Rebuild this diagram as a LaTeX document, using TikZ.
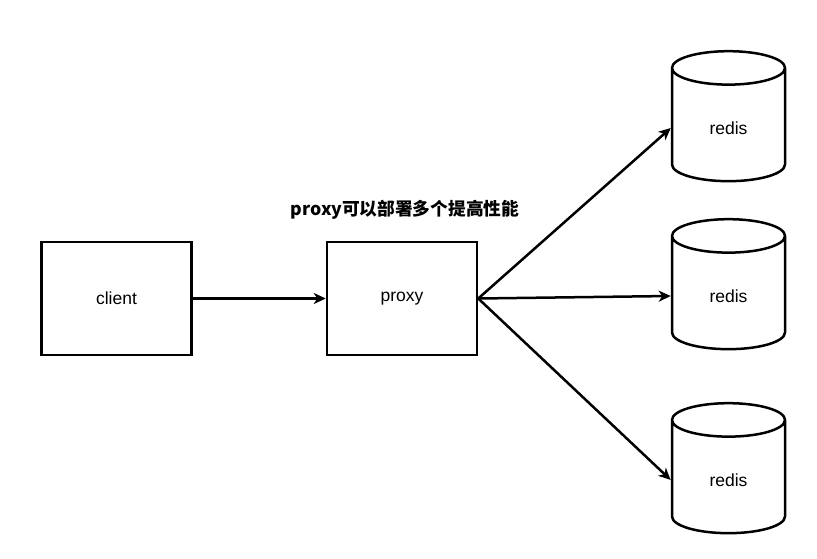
\documentclass[tikz,border=0pt]{standalone}
\usepackage{fontspec}
\setmainfont{Liberation Sans}
\newfontfamily\cjk{Noto Sans CJK SC}
\usetikzlibrary{shapes,arrows.meta}

\tikzset{
    box/.style={draw, line width=2.5pt, minimum width=150pt, minimum height=113pt, font=\fontsize{17.5}{20}\selectfont},
    db/.style={cylinder, shape border rotate=90, aspect=0.75, draw, line width=2.5pt,
        minimum width=113pt, minimum height=130pt, font=\fontsize{17.5}{20}\selectfont},
    link/.style={line width=2.5pt, -{Stealth[length=12pt,width=11pt,inset=3.5pt]}},
}

\begin{document}
\begin{tikzpicture}[x=1pt,y=1pt]

    \useasboundingbox (0,0) rectangle (817,558);

    \node [box] (client) at (116.5,259.5) {client};
    \node [box] (proxy) at (402,259.5) {proxy};

    \node [font=\cjk\bfseries\fontsize{17.7}{20}\selectfont] (note) at (405,348) {proxy可以部署多个提高性能};

    \node [db] (redisA) at (728.5,430) {redis};
    \node [db] (redisB) at (728.5,262) {redis};
    \node [db] (redisC) at (728.5,78) {redis};

    \draw [link] (client) -- (proxy);
    \draw [link] (proxy.east) -- (redisA.west);
    \draw [link] (proxy.east) -- (redisB.west);
    \draw [link] (proxy.east) -- (redisC.west);

\end{tikzpicture}
\end{document}
